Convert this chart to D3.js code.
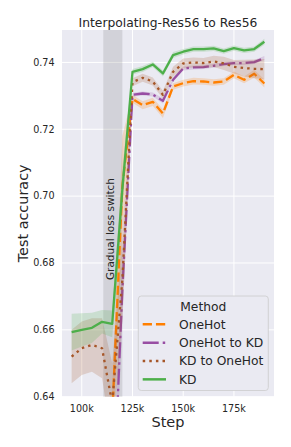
<!DOCTYPE html>
<html><head><meta charset="utf-8">
<script src="https://cdn.jsdelivr.net/npm/d3@7"></script>
<style>html,body{margin:0;padding:0;background:#fff;}svg{display:block;font-family:"DejaVu Sans",sans-serif;}</style>
</head><body>
<script>
const steps = [95000,100000,105000,110000,115000,120000,125000,130000,135000,140000,145000,150000,155000,160000,165000,170000,175000,180000,185000,190000];
const methods = ["OneHot","OneHot to KD","KD to OneHot","KD"];
const oneHot     = [0.628,0.630,0.631,0.630,0.634,0.703,0.7291,0.7272,0.7282,0.7247,0.7328,0.7338,0.7344,0.7343,0.7340,0.7343,0.7363,0.7348,0.7366,0.7337];
const oneHotToKD = [0.616,0.618,0.619,0.617,0.600,0.672,0.7303,0.7307,0.7304,0.7285,0.7348,0.7382,0.7385,0.7386,0.7390,0.7395,0.7398,0.7398,0.7401,0.7413];
const kdToOneHot = [0.652,0.6545,0.6555,0.6545,0.638,0.675,0.7341,0.7354,0.7343,0.7303,0.7372,0.7397,0.7400,0.7398,0.7403,0.7397,0.7387,0.7383,0.7381,0.7380];
const kd         = [0.6593,0.6600,0.6606,0.6624,0.6618,0.702,0.7372,0.7380,0.7394,0.7367,0.7422,0.7432,0.7440,0.7440,0.7442,0.7434,0.7443,0.7436,0.7440,0.7462];
const oneHotCI     = [0.003,0.003,0.003,0.003,0.008,0.015,0.0012,0.0012,0.0012,0.0013,0.001,0.001,0.001,0.001,0.001,0.001,0.001,0.001,0.0012,0.0012];
const oneHotToKDCI = [0.003,0.003,0.003,0.003,0.010,0.010,0.0006,0.0006,0.0006,0.0008,0.0006,0.0006,0.0006,0.0006,0.0006,0.0006,0.0006,0.0006,0.0006,0.0006];
const kdToOneHotCI = [0.008,0.008,0.008,0.009,0.012,0.012,0.0012,0.0012,0.0012,0.0012,0.0015,0.0015,0.0015,0.0015,0.0017,0.002,0.002,0.0025,0.0028,0.003];
const kdCI         = [0.0055,0.005,0.0045,0.0035,0.004,0.006,0.0008,0.0009,0.0008,0.0009,0.0009,0.0008,0.0008,0.0008,0.0008,0.0008,0.0008,0.0008,0.0008,0.0009];
const yTicks = [0.64,0.66,0.68,0.70,0.72,0.74];
const xTicks = [100000,125000,150000,175000];
const switchSpan = [110600,120000];
const title = "Interpolating-Res56 to Res56";

const W=291,H=447;
const m={left:62,right:274,top:30,bottom:396.7};
const svg=d3.select("body").append("svg").attr("width",W).attr("height",H);
const x=d3.scaleLinear().domain([90250,194750]).range([m.left,m.right]);
const y=d3.scaleLinear().domain([0.64,0.7497]).range([m.bottom,m.top]);

svg.append("rect").attr("x",m.left).attr("y",m.top).attr("width",m.right-m.left).attr("height",m.bottom-m.top).attr("fill","#eaeaf2");
svg.append("defs").append("clipPath").attr("id","clip").append("rect").attr("x",m.left).attr("y",m.top).attr("width",m.right-m.left).attr("height",m.bottom-m.top);

// grid
const g=svg.append("g");
g.selectAll(".hg").data(yTicks).join("line").attr("x1",m.left).attr("x2",m.right).attr("y1",d=>y(d)).attr("y2",d=>y(d)).attr("stroke","#fff").attr("stroke-width",1);
g.selectAll(".vg").data(xTicks).join("line").attr("y1",m.top).attr("y2",m.bottom).attr("x1",d=>x(d)).attr("x2",d=>x(d)).attr("stroke","#fff").attr("stroke-width",1);

// switch span
svg.append("rect").attr("x",x(switchSpan[0])).attr("width",x(switchSpan[1])-x(switchSpan[0])).attr("y",m.top).attr("height",m.bottom-m.top).attr("fill","#808080").attr("opacity",0.22);
svg.append("text").attr("transform",`translate(${x(switchSpan[0])+10.5},229) rotate(-90)`).attr("text-anchor","middle").attr("font-size",10.5).attr("fill","#262626").text("Gradual loss switch");

const series=[
 {name:methods[0],vals:oneHot,ci:oneHotCI,color:"#ff7f00",dash:"9.25,4"},
 {name:methods[1],vals:oneHotToKD,ci:oneHotToKDCI,color:"#984ea3",dash:"16,4,2.5,4"},
 {name:methods[2],vals:kdToOneHot,ci:kdToOneHotCI,color:"#a65628",dash:"2.5,4.1"},
 {name:methods[3],vals:kd,ci:kdCI,color:"#4daf4a",dash:null}
];
const pg=svg.append("g").attr("clip-path","url(#clip)");
series.forEach(s=>{
  const area=d3.area().x((d,i)=>x(steps[i])).y0((d,i)=>y(d-s.ci[i])).y1((d,i)=>y(d+s.ci[i]));
  pg.append("path").attr("d",area(s.vals)).attr("fill",s.color).attr("opacity",0.2);
  const line=d3.line().x((d,i)=>x(steps[i])).y(d=>y(d));
  pg.append("path").attr("d",line(s.vals)).attr("fill","none").attr("stroke",s.color).attr("stroke-width",2.3).attr("stroke-dasharray",s.dash).attr("stroke-linejoin","round");
});

// axes labels
svg.selectAll(".yt").data(yTicks).join("text").attr("x",54.5).attr("y",d=>y(d)).attr("dy","0.35em").attr("text-anchor","end").attr("font-size",9.6).attr("fill","#262626").text(d=>d3.format(".2f")(d));
svg.selectAll(".xt").data(xTicks).join("text").attr("x",d=>x(d)).attr("y",411.5).attr("text-anchor","middle").attr("font-size",9.6).attr("fill","#262626").text(d=>d3.format("d")(d/1000)+"k");
svg.append("text").attr("x",(m.left+m.right)/2).attr("y",426.5).attr("text-anchor","middle").attr("font-size",14.5).attr("fill","#262626").text("Step");
svg.append("text").attr("transform",`translate(27.5,${(m.top+m.bottom)/2}) rotate(-90)`).attr("text-anchor","middle").attr("font-size",14.4).attr("fill","#262626").text("Test accuracy");
svg.append("text").attr("x",(m.left+m.right)/2).attr("y",26.5).attr("text-anchor","middle").attr("font-size",12.3).attr("fill","#262626").text(title);

// legend
const L={x:138.3,y:296,w:130,h:94.5};
svg.append("rect").attr("x",L.x).attr("y",L.y).attr("width",L.w).attr("height",L.h).attr("rx",3).attr("fill","#eaeaf2").attr("stroke","#cccccc").attr("stroke-width",0.8);
svg.append("text").attr("x",L.x+L.w/2).attr("y",310.7).attr("text-anchor","middle").attr("font-size",12.3).attr("fill","#262626").text("Method");
series.forEach((s,i)=>{
  const cy=324.3+i*18.35;
  svg.append("line").attr("x1",142.7).attr("x2",166).attr("y1",cy).attr("y2",cy).attr("stroke",s.color).attr("stroke-width",2.5).attr("stroke-dasharray",s.dash);
  svg.append("text").attr("x",179).attr("y",cy).attr("dy","0.36em").attr("font-size",12.3).attr("fill","#262626").text(s.name);
});
</script>
</body></html>
